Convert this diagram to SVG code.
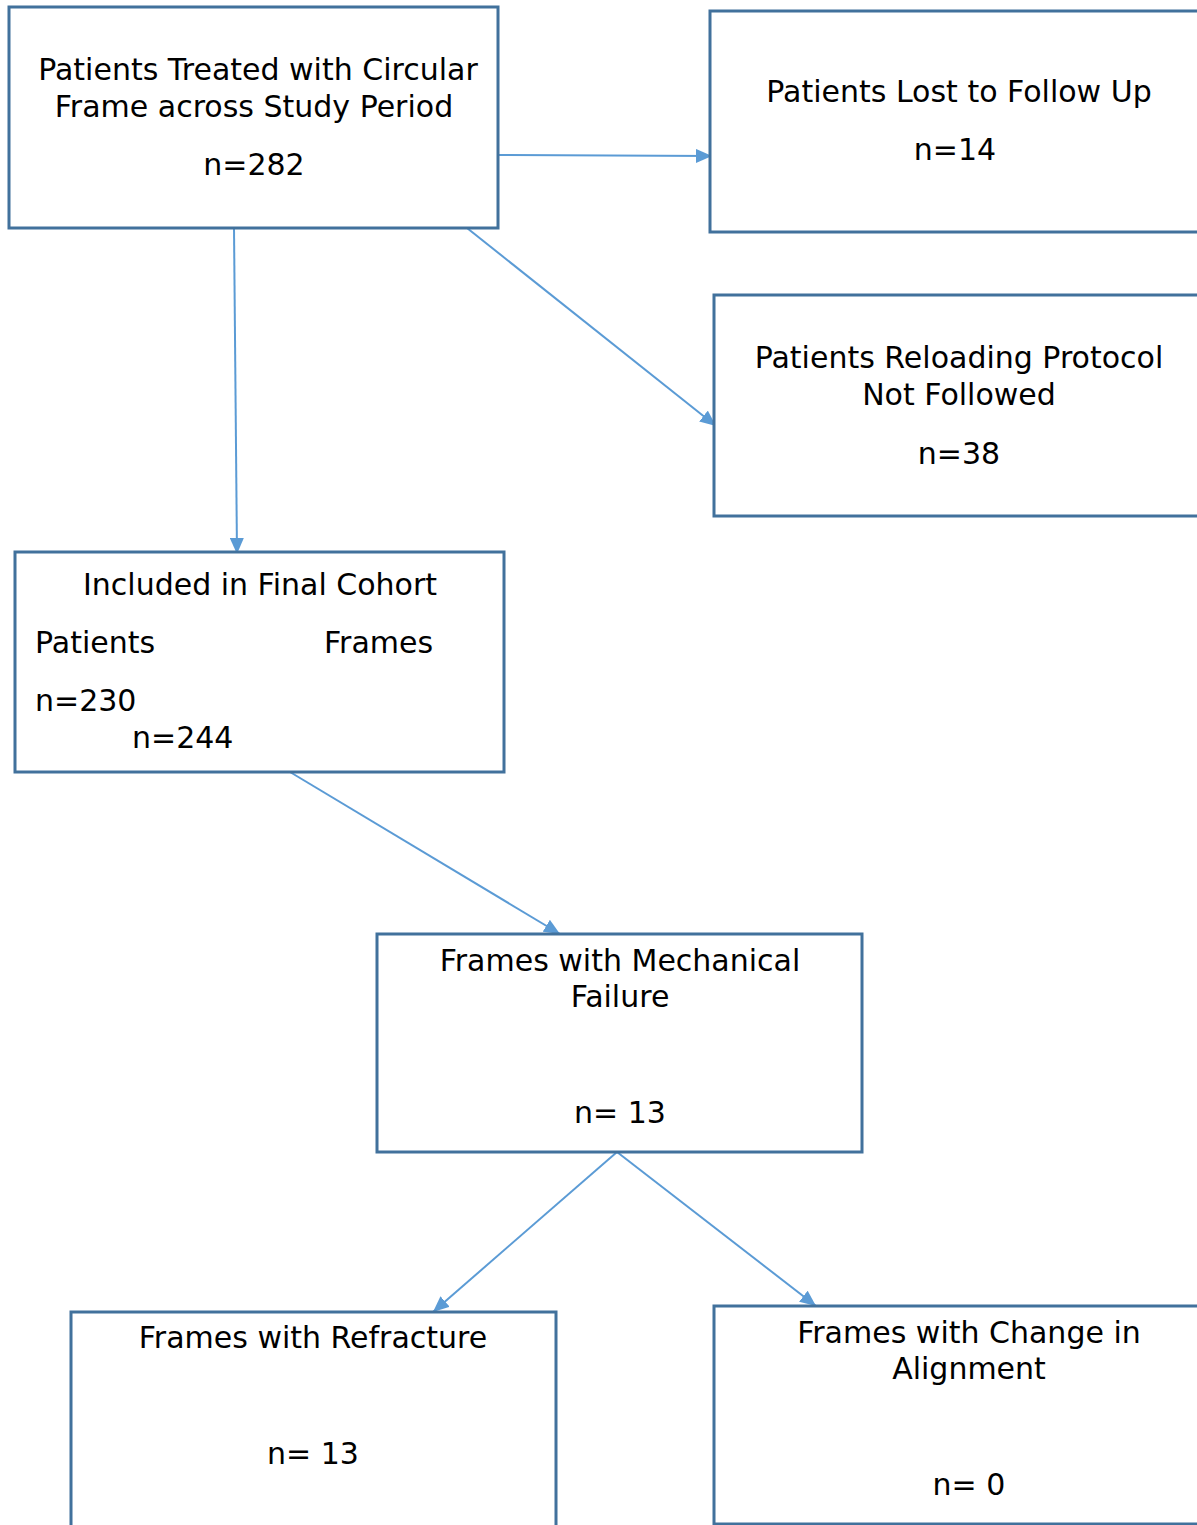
<svg xmlns="http://www.w3.org/2000/svg" width="1197" height="1525" viewBox="0 0 1197 1525">
<defs>
<style>
.box{fill:#fff;stroke:#41719C;stroke-width:3}
.t{font-family:"DejaVu Sans",sans-serif;font-size:30px;fill:#000}
.c{text-anchor:middle}
.con{stroke:#5B9BD5;stroke-width:2;fill:none;marker-end:url(#ah)}
</style>
<marker id="ah" viewBox="0 0 10 10" refX="10" refY="5" markerWidth="16" markerHeight="14" markerUnits="userSpaceOnUse" orient="auto" preserveAspectRatio="none">
<path d="M0,0 L10,5 L0,10 Z" fill="#5B9BD5"/>
</marker>
</defs>
<rect width="1197" height="1525" fill="#fff"/>
<g id="connectors">
<line class="con" x1="498" y1="155" x2="712" y2="156"/>
<line class="con" x1="467" y1="228" x2="716" y2="426"/>
<line class="con" x1="234" y1="228" x2="237" y2="554"/>
<line class="con" x1="290" y1="772" x2="560" y2="934"/>
<line class="con" x1="617" y1="1152" x2="433" y2="1312"/>
<line class="con" x1="617" y1="1152" x2="816" y2="1306"/>
</g>
<g id="n1">
<rect class="box" x="9" y="7" width="489" height="221"/>
<text class="t c" x="258" y="80">Patients Treated with Circular</text>
<text class="t c" x="254" y="117">Frame across Study Period</text>
<text class="t c" x="254" y="175">n=282</text>
</g>
<g id="n2">
<rect class="box" x="710" y="11" width="500" height="221"/>
<text class="t c" x="959" y="102">Patients Lost to Follow Up</text>
<text class="t c" x="955" y="160">n=14</text>
</g>
<g id="n3">
<rect class="box" x="714" y="295" width="500" height="221"/>
<text class="t c" x="959" y="368">Patients Reloading Protocol</text>
<text class="t c" x="959" y="405">Not Followed</text>
<text class="t c" x="959" y="464">n=38</text>
</g>
<g id="n4">
<rect class="box" x="15" y="552" width="489" height="220"/>
<text class="t c" x="260" y="595">Included in Final Cohort</text>
<text class="t" x="35" y="653">Patients</text>
<text class="t" x="324" y="653">Frames</text>
<text class="t" x="35" y="711">n=230</text>
<text class="t" x="132" y="748">n=244</text>
</g>
<g id="n5">
<rect class="box" x="377" y="934" width="485" height="218"/>
<text class="t c" x="620" y="971">Frames with Mechanical</text>
<text class="t c" x="620" y="1007">Failure</text>
<text class="t c" x="620" y="1123">n= 13</text>
</g>
<g id="n6">
<rect class="box" x="71" y="1312" width="485" height="230"/>
<text class="t c" x="313" y="1348">Frames with Refracture</text>
<text class="t c" x="313" y="1464">n= 13</text>
</g>
<g id="n7">
<rect class="box" x="714" y="1306" width="500" height="218"/>
<text class="t c" x="969" y="1343">Frames with Change in</text>
<text class="t c" x="969" y="1379">Alignment</text>
<text class="t c" x="969" y="1495">n= 0</text>
</g>
</svg>
